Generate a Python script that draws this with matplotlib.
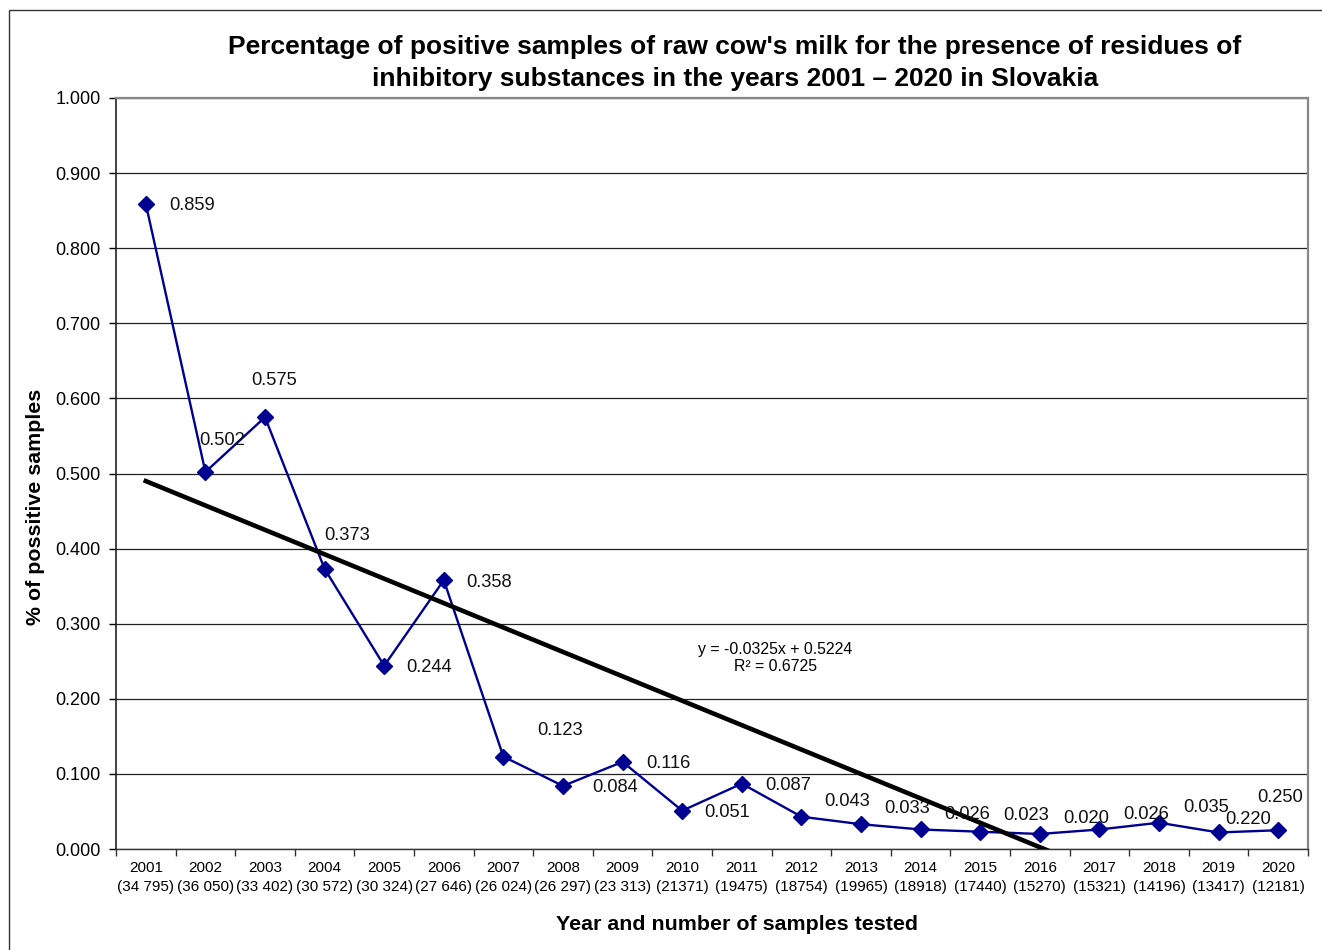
import matplotlib
matplotlib.use("Agg")
import matplotlib.pyplot as plt
from matplotlib.patches import Rectangle
import numpy as np

plt.rcParams['font.family'] = ['Liberation Sans', 'DejaVu Sans']

years = ['2001', '2002', '2003', '2004', '2005', '2006', '2007', '2008', '2009', '2010',
         '2011', '2012', '2013', '2014', '2015', '2016', '2017', '2018', '2019', '2020']
samples = ['(34 795)', '(36 050)', '(33 402)', '(30 572)', '(30 324)', '(27 646)', '(26 024)',
           '(26 297)', '(23 313)', '(21371)', '(19475)', '(18754)', '(19965)', '(18918)',
           '(17440)', '(15270)', '(15321)', '(14196)', '(13417)', '(12181)']
values = [0.859, 0.502, 0.575, 0.373, 0.244, 0.358, 0.123, 0.084, 0.116, 0.051,
          0.087, 0.043, 0.033, 0.026, 0.023, 0.020, 0.026, 0.035, 0.022, 0.025]
value_labels = ['0.859', '0.502', '0.575', '0.373', '0.244', '0.358', '0.123', '0.084', '0.116', '0.051',
                '0.087', '0.043', '0.033', '0.026', '0.023', '0.020', '0.026', '0.035', '0.220', '0.250']
trend_slope = -0.0325
trend_intercept = 0.5224
trend_r2 = 0.6725

# label offsets in pixels (dx, dy)
label_offsets = [(46, -2), (17, 31), (9, 37), (23, 33), (45, -2), (45, -2), (57, 26), (52, -2),
                 (46, -2), (45, -2), (46, -2), (46, 15), (46, 16), (47, 15), (46, 16), (46, 15),
                 (47, 15), (47, 15), (30, 13), (2, 33)]

W, H = 1322, 950
fig = plt.figure(figsize=(W / 100, H / 100), dpi=100)
fig.patch.set_facecolor('white')

# outer chart border
fig.add_artist(Rectangle((9 / W, -0.1), 1.2, 1 - 10 / H + 0.1, transform=fig.transFigure,
                         fill=False, edgecolor='#333333', linewidth=1.0))

ax = fig.add_axes([116 / W, 1 - 849 / H, (1308 - 116) / W, (849 - 98) / H])
x = np.arange(1, len(years) + 1)

ax.set_xlim(0.5, len(years) + 0.5)
ax.set_ylim(0, 1.0)
ax.set_yticks(np.arange(0, 1.0001, 0.1))
ax.set_yticklabels([f'{v:.3f}' for v in np.arange(0, 1.0001, 0.1)], fontsize=13)
ax.yaxis.grid(True, color='#222222', linewidth=0.9)
ax.set_axisbelow(True)

ax.set_xticks(x)
ax.set_xticklabels([f'{y}\n{s}' for y, s in zip(years, samples)], fontsize=11, linespacing=1.4)
ax.set_xticks(np.arange(0.5, len(years) + 1, 1.0), minor=True)
ax.tick_params(axis='x', which='major', length=0, pad=9)
ax.tick_params(axis='x', which='minor', length=5, width=1, direction='out', color='#333333')
ax.tick_params(axis='y', length=5, width=1, direction='out', pad=6)

for side in ['top', 'right']:
    ax.spines[side].set_color('#888888')
    ax.spines[side].set_linewidth(1.6)
ax.spines['left'].set_color('#222222')
ax.spines['left'].set_linewidth(1.2)
ax.spines['bottom'].set_color('#333333')
ax.spines['bottom'].set_linewidth(1.0)

ax.plot(x, values, color='#000090', linewidth=1.7, marker='D', markersize=8.5,
        markerfacecolor='#000090', markeredgecolor='#000090', zorder=3)

xt = np.linspace(1, len(years), 200)
ax.plot(xt, trend_slope * xt + trend_intercept, color='black', linewidth=3.3, zorder=4)

for xi, v, lab, (dx, dy) in zip(x, values, value_labels, label_offsets):
    ax.annotate(lab, (xi, v), xytext=(dx, dy), textcoords='offset pixels',
                ha='center', va='center', fontsize=13.2, color='#111111', zorder=5)

ax.text((775 - 116) / (1308 - 116), (849 - 658) / (849 - 98),
        f'y = {trend_slope}x + {trend_intercept}\nR\u00b2 = {trend_r2}',
        transform=ax.transAxes, ha='center', va='center', fontsize=11.4, linespacing=1.1)

fig.text(735 / W, 1 - 63 / H,
         "Percentage of positive samples of raw cow's milk for the presence of residues of\n"
         "inhibitory substances in the years 2001 \u2013 2020 in Slovakia",
         ha='center', va='center', fontsize=19, fontweight='bold', linespacing=1.42)

fig.text(737 / W, 1 - 925 / H, 'Year and number of samples tested',
         ha='center', va='center', fontsize=15.4, fontweight='bold')
fig.text(36 / W, 1 - 507 / H, '% of possitive samples', rotation=90,
         ha='center', va='center', fontsize=15.4, fontweight='bold')

fig.savefig('out.png', dpi=100)
